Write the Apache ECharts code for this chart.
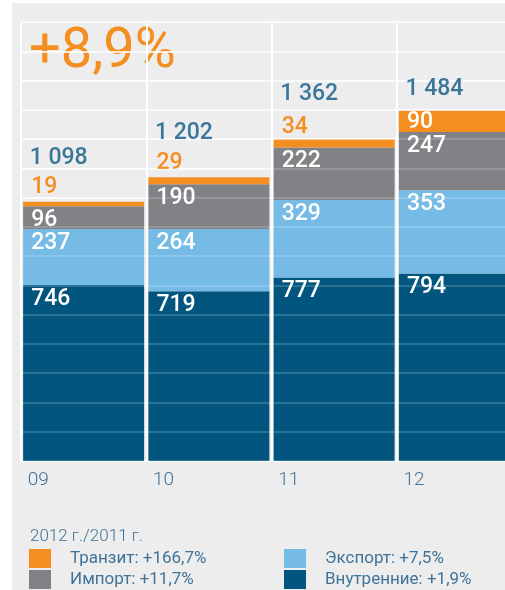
<!DOCTYPE html>
<html lang="ru">
<head>
    <meta charset="UTF-8">
    <title>Грузооборот</title>
    <style>
        html, body { margin: 0; padding: 0; background: #fff; }
        #chart { width: 505px; height: 590px; }
    </style>
</head>
<body>
    <div id="chart"></div>
    <script src="https://cdn.jsdelivr.net/npm/echarts@6/dist/echarts.min.js"></script>
    <script>
        // годы
        const years = ['09', '10', '11', '12'];

        // объёмы по видам
        const domestic = [746, 719, 777, 794];
        const exportVals = [237, 264, 329, 353];
        const importVals = [96, 190, 222, 247];
        const transit = [19, 29, 34, 90];
        const totals = [1098, 1202, 1362, 1484];

        // 2012 г./2011 г.
        const names = ['Внутренние', 'Экспорт', 'Импорт', 'Транзит'];
        const changes = ['+1,9%', '+7,5%', '+11,7%', '+166,7%'];
        const colors = ['#02557f', '#76bbe6', '#818285', '#f48e21'];
        const growth = '+8,9%';

        const font = 'Roboto';
        const textBlue = '#0c5884';
        const axisBlue = '#3f7399';

        // подписи внутри сегментов
        function inner(extra) {
            return Object.assign({
                show: true,
                position: [8, 2],
                color: '#fff',
                fontFamily: font,
                fontSize: 23,
                fontWeight: 500,
                lineHeight: 24
            }, extra || {});
        }

        // транзит: у маленьких сегментов подпись над столбиком
        const transitOffsets = [-27, -26, -24, 0];
        const transitData = transit.map(function(v, i) {
            let item = { value: v };
            if (transitOffsets[i] < 0) {
                item.label = { position: [8, transitOffsets[i]], color: colors[3] };
            }
            return item;
        });

        // итог над столбиком
        const totalOffsets = [-44, -44, -45, -21];
        const totalData = totals.map(function(v, i) {
            return { value: v, label: { offset: [-54, totalOffsets[i]] } };
        });

        function fmtTotal(v) {
            let s = String(v);
            return s.length > 3 ? s.slice(0, s.length - 3) + ' ' + s.slice(-3) : s;
        }

        let chart = echarts.init(document.getElementById('chart'));

        let series = [domestic, exportVals, importVals].map(function(arr, i) {
            return {
                name: names[i],
                type: 'bar',
                stack: 'all',
                barWidth: 121,
                data: arr,
                itemStyle: { color: colors[i] },
                label: inner(),
                z: 2
            };
        });
        series.push({
            name: names[3],
            type: 'bar',
            stack: 'all',
            barWidth: 121,
            data: transitData,
            itemStyle: { color: colors[3] },
            label: inner({ position: [8, 0] }),
            z: 2
        });
        series.push({
            name: 'Итого',
            type: 'scatter',
            symbolSize: 0,
            data: totalData,
            label: {
                show: true,
                position: 'inside',
                align: 'left',
                verticalAlign: 'middle',
                color: textBlue,
                fontFamily: font,
                fontSize: 23,
                fontWeight: 500,
                formatter: function(p) { return fmtTotal(p.value); }
            },
            z: 4
        });

        function legendFmt(name) {
            return name + ': ' + changes[names.indexOf(name)];
        }

        let legendBase = {
            orient: 'vertical',
            padding: 0,
            itemWidth: 22,
            itemHeight: 19,
            itemGap: 2,
            icon: 'rect',
            formatter: legendFmt,
            selectedMode: false,
            textStyle: {
                fontFamily: font,
                fontSize: 17,
                color: axisBlue,
                padding: [0, 0, 0, 14],
                lineHeight: 19
            }
        };

        let option = {
            backgroundColor: '#ededed',
            animation: false,
            color: colors,
            grid: { left: 21, width: 501, top: 22, bottom: 129, outerBoundsMode: 'none' },
            xAxis: {
                type: 'category',
                data: years,
                axisLine: { show: false },
                axisTick: { show: false },
                splitLine: { show: true, lineStyle: { color: '#fff', width: 2 } },
                axisLabel: {
                    margin: 10,
                    formatter: '{a|{value}}',
                    rich: {
                        a: {
                            width: 112,
                            align: 'left',
                            fontFamily: font,
                            fontSize: 19,
                            fontWeight: 300,
                            color: axisBlue
                        }
                    }
                }
            },
            yAxis: [{
                type: 'value',
                min: 0,
                max: 1860,
                interval: 124,
                axisLine: { show: false },
                axisTick: { show: false },
                axisLabel: { show: false },
                splitLine: { lineStyle: { color: '#fff', width: 1.5 } }
            }, {
                type: 'value',
                min: 0,
                max: 1860,
                interval: 124,
                z: 3,
                axisLine: { show: false },
                axisTick: { show: false },
                axisLabel: { show: false },
                splitLine: { lineStyle: { color: 'rgba(255,255,255,0.22)', width: 1.5 } }
            }],
            legend: [
                Object.assign({ left: 29, top: 549, data: [names[3], names[2]] }, legendBase),
                Object.assign({ left: 284, top: 549, data: [names[1], names[0]] }, legendBase)
            ],
            graphic: [
                { type: 'rect', left: 0, top: 0, shape: { width: 12, height: 590 }, style: { fill: '#fff' } },
                { type: 'rect', left: 0, top: 0, shape: { width: 505, height: 3 }, style: { fill: '#fff' } },
                {
                    type: 'text', left: 29, top: 25,
                    style: { text: growth, fill: colors[3], font: '400 56px Roboto' }
                },
                {
                    type: 'text', left: 30, top: 528,
                    style: { text: '2012 г./2011 г.', fill: axisBlue, font: '300 17px Roboto' }
                }
            ],
            series: series
        };

        chart.setOption(option);
    </script>
</body>
</html>
